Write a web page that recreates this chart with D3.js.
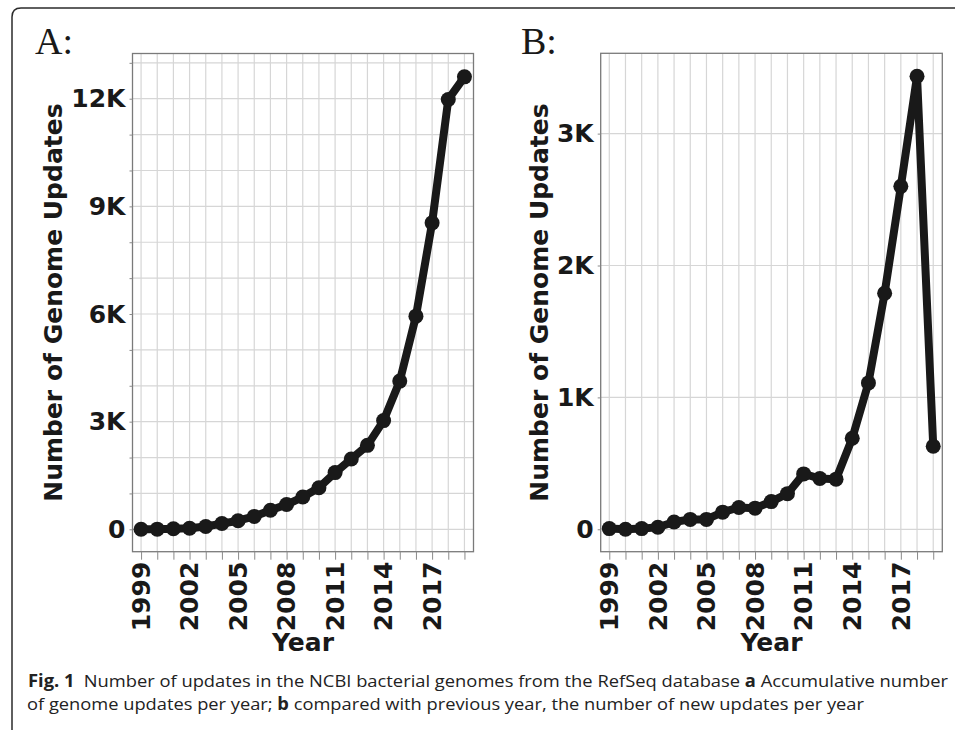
<!DOCTYPE html>
<html>
<head>
<meta charset="utf-8">
<script src="https://cdn.jsdelivr.net/npm/d3@7"></script>
<style>
  body { margin: 0; background: #fff; }
  svg { display: block; }
</style>
</head>
<body>
<svg id="fig" width="955" height="730"></svg>
<script>
// data
var years = [1999, 2000, 2001, 2002, 2003, 2004, 2005, 2006, 2007, 2008, 2009,
             2010, 2011, 2012, 2013, 2014, 2015, 2016, 2017, 2018, 2019];
var cumulativeUpdates = [0, 5, 15, 30, 80, 160, 240, 360, 530, 690, 900,
                         1160, 1580, 1960, 2340, 3030, 4130, 5940, 8540, 11980, 12610];
var newUpdates = [5, 0, 5, 15, 55, 75, 75, 130, 165, 160, 210,
                  270, 420, 385, 380, 690, 1110, 1790, 2600, 3435, 630];
var yearLabels = [1999, 2002, 2005, 2008, 2011, 2014, 2017];
var ticksA = [0, 3000, 6000, 9000, 12000];
var gridA = [0, 1000, 2000, 3000, 4000, 5000, 6000, 7000, 8000, 9000, 10000, 11000, 12000, 13000];
var ticksB = [0, 1000, 2000, 3000];

var ink = "#191919";
var svg = d3.select("#fig");

// outer frame (cut off on the right and bottom)
svg.append("path")
  .attr("d", "M12,730 V17 Q12,8 21,8 H955")
  .attr("fill", "none")
  .attr("stroke", "#2b2b2b")
  .attr("stroke-width", 1.5);

function fmt(d) { return d === 0 ? "0" : (d / 1000) + "K"; }

function drawPanel(p) {
  var x = d3.scaleLinear().domain([1998.47, 2019.56]).range([p.left, p.right]);
  var y = d3.scaleLinear().domain(p.yDomain).range([p.bottom, p.top]);
  var g = svg.append("g");

  // grid
  g.selectAll(".gx").data(years).enter().append("line")
    .attr("x1", d => x(d)).attr("x2", d => x(d))
    .attr("y1", p.top).attr("y2", p.bottom)
    .attr("stroke", "#d6d6d6").attr("stroke-width", 1.2);
  g.selectAll(".gy").data(p.grid).enter().append("line")
    .attr("x1", p.left).attr("x2", p.right)
    .attr("y1", d => y(d)).attr("y2", d => y(d))
    .attr("stroke", "#d6d6d6").attr("stroke-width", 1.2);

  // frame
  g.append("rect")
    .attr("x", p.left).attr("y", p.top)
    .attr("width", p.right - p.left).attr("height", p.bottom - p.top)
    .attr("fill", "none").attr("stroke", "#7a7a7a").attr("stroke-width", 1.3);

  // x axis: minor ticks every year, labels every three
  var xAxis = d3.axisBottom(x).tickValues(years).tickSize(8).tickFormat("");
  var xa = g.append("g").attr("transform", "translate(0," + p.bottom + ")").call(xAxis);
  xa.select(".domain").remove();
  xa.selectAll("line").attr("stroke", "#8a8a8a").attr("stroke-width", 1);

  g.selectAll(".xl").data(yearLabels).enter().append("text")
    .attr("transform", d => "translate(" + x(d) + "," + (p.bottom + 10) + ") rotate(-90)")
    .attr("dy", "0.35em")
    .attr("text-anchor", "end")
    .attr("font-family", "DejaVu Sans")
    .attr("font-weight", "bold")
    .attr("font-size", 25)
    .attr("fill", ink)
    .text(d => d);

  // y axis
  var yAxis = d3.axisLeft(y).tickValues(p.grid).tickSize(3).tickFormat("");
  var ya = g.append("g").attr("transform", "translate(" + p.left + ",0)").call(yAxis);
  ya.select(".domain").remove();
  ya.selectAll("line").attr("stroke", "#8a8a8a");

  g.selectAll(".yl").data(p.ticks).enter().append("text")
    .attr("x", p.left - 7)
    .attr("y", d => y(d))
    .attr("dy", "0.35em")
    .attr("text-anchor", "end")
    .attr("font-family", "DejaVu Sans")
    .attr("font-weight", "bold")
    .attr("font-size", 25)
    .attr("fill", ink)
    .text(fmt);

  // series
  var line = d3.line().x((d, i) => x(years[i])).y(d => y(d));
  g.append("path")
    .attr("d", line(p.values))
    .attr("fill", "none")
    .attr("stroke", ink)
    .attr("stroke-width", 8)
    .attr("stroke-linejoin", "round");
  g.selectAll(".pt").data(p.values).enter().append("circle")
    .attr("cx", (d, i) => x(years[i]))
    .attr("cy", d => y(d))
    .attr("r", 7.5)
    .attr("fill", ink);

  // titles
  g.append("text")
    .attr("x", (p.left + p.right) / 2)
    .attr("y", 651)
    .attr("text-anchor", "middle")
    .attr("font-family", "DejaVu Sans")
    .attr("font-weight", "bold")
    .attr("font-size", 25)
    .attr("fill", ink)
    .text("Year");
  g.append("text")
    .attr("transform", "translate(" + p.titleX + "," + ((p.top + p.bottom) / 2) + ") rotate(-90)")
    .attr("text-anchor", "middle")
    .attr("font-family", "DejaVu Sans")
    .attr("font-weight", "bold")
    .attr("font-size", 25)
    .attr("fill", ink)
    .text("Number of Genome Updates");
  g.append("text")
    .attr("x", p.letterX)
    .attr("y", 54)
    .attr("font-family", "Liberation Serif")
    .attr("font-size", 38)
    .attr("fill", ink)
    .text(p.letter);
}

drawPanel({
  left: 132.5, right: 473.5, top: 53.5, bottom: 551.7,
  yDomain: [-624, 13260], values: cumulativeUpdates,
  ticks: ticksA, grid: gridA, letter: "A:", letterX: 35, titleX: 61.5
});
drawPanel({
  left: 600.7, right: 942.3, top: 53.3, bottom: 551.7,
  yDomain: [-170, 3609], values: newUpdates,
  ticks: ticksB, grid: ticksB, letter: "B:", letterX: 521, titleX: 548
});

// caption
var cap = svg.append("g")
  .attr("font-family", "'Open Sans', 'Liberation Sans', sans-serif")
  .attr("font-size", 17)
  .attr("fill", "#222");
var l1 = cap.append("text").attr("x", 28).attr("y", 687)
  .attr("textLength", 920).attr("lengthAdjust", "spacingAndGlyphs");
l1.append("tspan").attr("font-weight", "bold").text("Fig. 1");
l1.append("tspan").text("\u2002Number of updates in the NCBI bacterial genomes from the RefSeq database ");
l1.append("tspan").attr("font-weight", "bold").text("a");
l1.append("tspan").text(" Accumulative number");
var l2 = cap.append("text").attr("x", 27).attr("y", 710)
  .attr("textLength", 837).attr("lengthAdjust", "spacingAndGlyphs");
l2.append("tspan").text("of genome updates per year; ");
l2.append("tspan").attr("font-weight", "bold").text("b");
l2.append("tspan").text(" compared with previous year, the number of new updates per year");
</script>
</body>
</html>
